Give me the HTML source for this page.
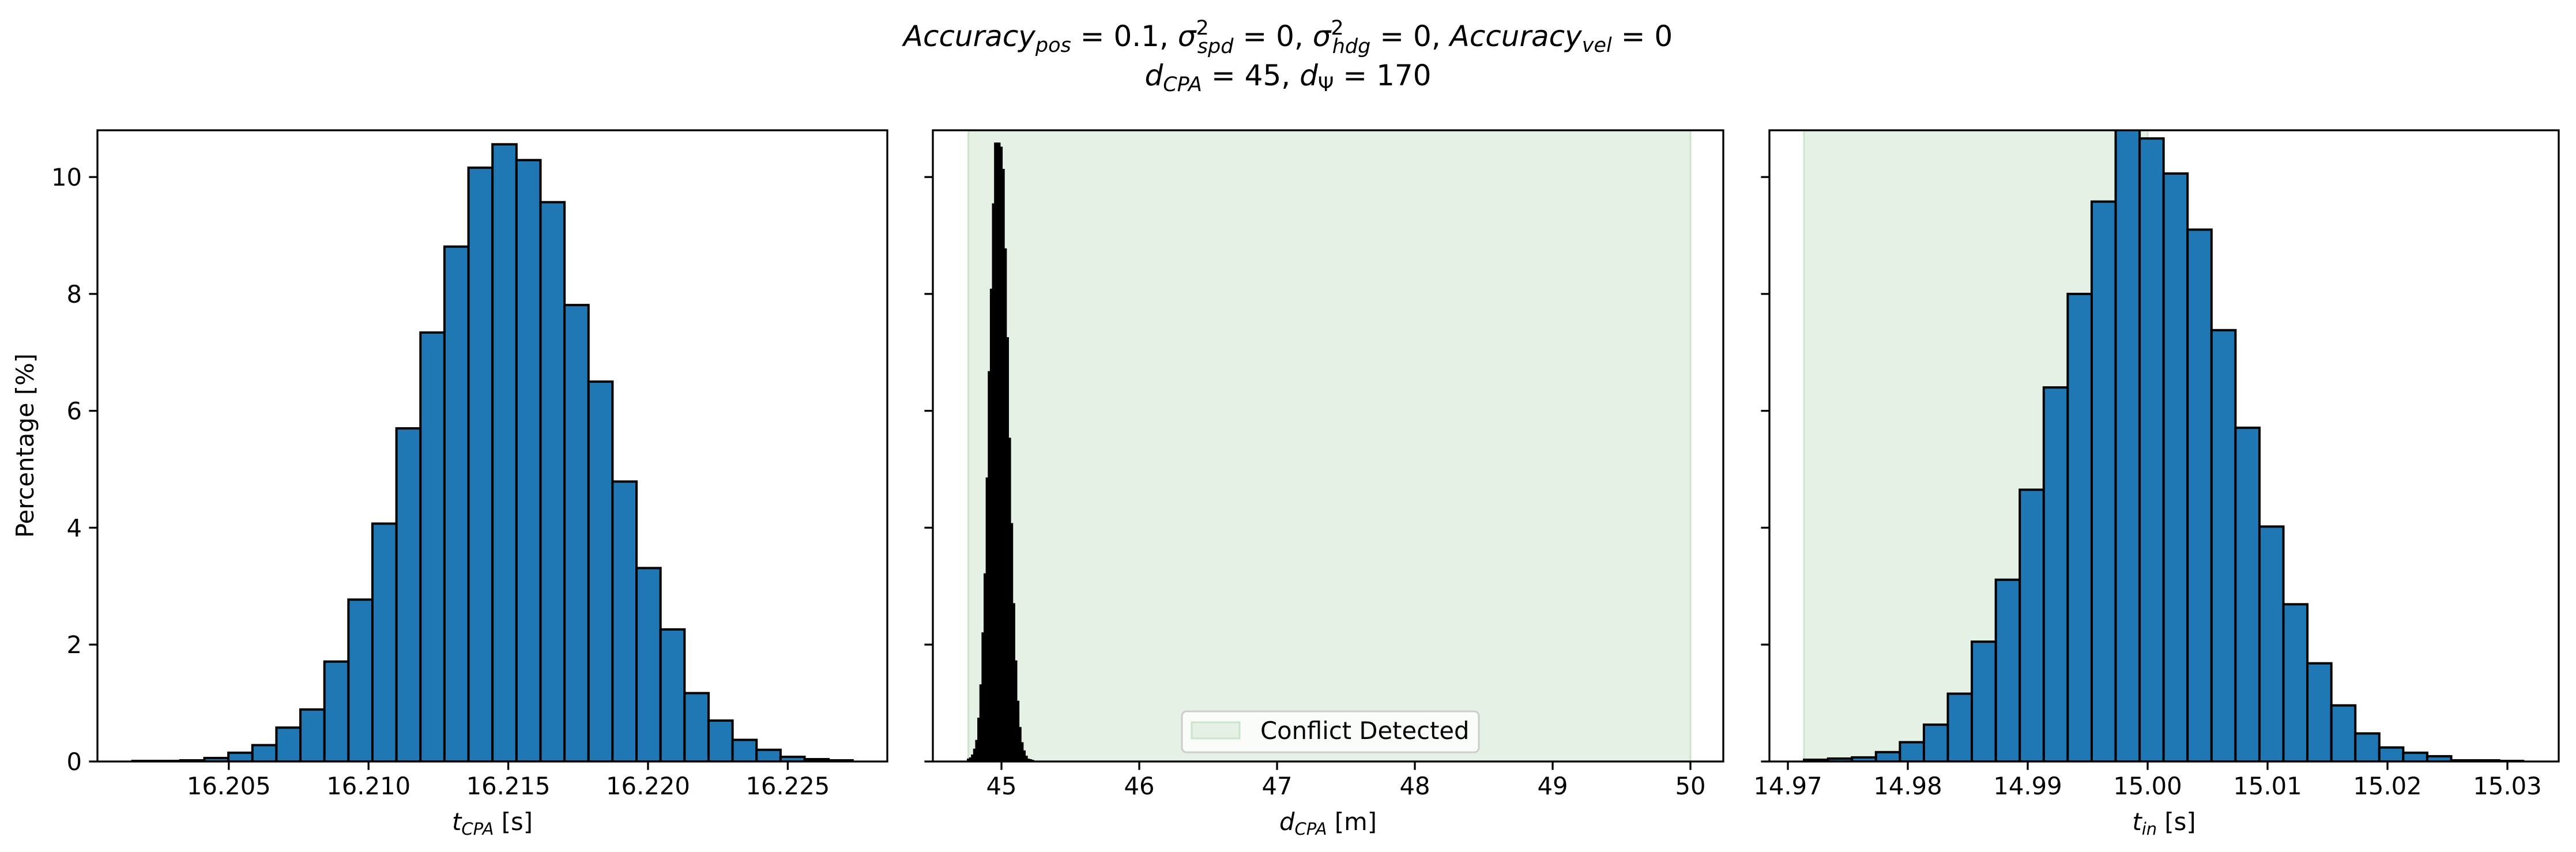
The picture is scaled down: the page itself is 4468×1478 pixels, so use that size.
<!DOCTYPE html>
<html><head><meta charset="utf-8">
<style>
html,body{margin:0;padding:0;background:#fff;}
svg{display:block;font-family:"DejaVu Sans","Liberation Sans",sans-serif;}
</style></head>
<body>
<svg id="fig" width="4468" height="1478" viewBox="0 0 4468 1478" xmlns="http://www.w3.org/2000/svg">
<rect width="4468" height="1478" fill="#fff"/>
<g font-size="50" text-anchor="middle">
<text x="2234" y="80"><tspan font-style="italic">Accuracy</tspan><tspan font-style="italic" font-size="35" dy="10">pos</tspan><tspan dy="-10"> = 0.1, </tspan><tspan font-style="italic">σ</tspan><tspan font-size="35" dy="-20">2</tspan><tspan font-style="italic" font-size="35" dx="-20" dy="32">spd</tspan><tspan dy="-12"> = 0, </tspan><tspan font-style="italic">σ</tspan><tspan font-size="35" dy="-20">2</tspan><tspan font-style="italic" font-size="35" dx="-20" dy="32">hdg</tspan><tspan dy="-12"> = 0, </tspan><tspan font-style="italic">Accuracy</tspan><tspan font-style="italic" font-size="35" dy="10">vel</tspan><tspan dy="-10"> = 0</tspan></text>
<text x="2234" y="148"><tspan font-style="italic">d</tspan><tspan font-style="italic" font-size="35" dy="10">CPA</tspan><tspan dy="-10"> = 45, </tspan><tspan font-style="italic">d</tspan><tspan font-size="35" dy="10">Ψ</tspan><tspan dy="-10"> = 170</tspan></text>
</g>
<g id="p1"></g>
<g id="p2"></g>
<g id="p3"></g>
</svg>
<script>
const yTicks = [0, 2, 4, 6, 8, 10];
const yMax = 10.8;

const tcpaStart = 16.20155;
const tcpaBinWidth = 0.000859;
const tcpaValues = [0.01,0.01,0.02,0.06,0.15,0.28,0.58,0.89,1.71,2.77,4.07,5.70,7.34,8.81,10.16,10.56,10.29,9.57,7.81,6.50,4.79,3.31,2.26,1.17,0.70,0.37,0.20,0.08,0.04,0.02];
const tcpaTicks = [16.205, 16.210, 16.215, 16.220, 16.225];
const tcpaTickLabels = ["16.205","16.210","16.215","16.220","16.225"];

const dcpaStart = 44.757;
const dcpaBinWidth = 0.0152;
const dcpaValues = [0.03,0.05,0.10,0.20,0.35,0.73,1.30,2.19,3.20,4.84,6.66,8.07,9.53,10.57,10.57,10.50,10.12,8.76,7.24,5.52,4.06,2.69,1.71,1.02,0.57,0.31,0.17,0.08,0.03,0.02,0.01];
const dcpaTicks = [45, 46, 47, 48, 49, 50];
const dcpaTickLabels = ["45","46","47","48","49","50"];
const dcpaSpan = [44.76, 50.0];

const tinStart = 14.97135;
const tinBinWidth = 0.0019986;
const tinValues = [0.03,0.05,0.07,0.16,0.33,0.63,1.16,2.05,3.11,4.65,6.40,8.00,9.58,10.95,10.66,10.06,9.10,7.38,5.71,4.02,2.69,1.68,0.96,0.48,0.24,0.15,0.09,0.02,0.02,0.01];
const tinTicks = [14.97, 14.98, 14.99, 15.00, 15.01, 15.02, 15.03];
const tinTickLabels = ["14.97","14.98","14.99","15.00","15.01","15.02","15.03"];
const tinSpan = [14.97135, 15.0000];

const NS = "http://www.w3.org/2000/svg";
function mk(tag, attrs, parent){const e=document.createElementNS(NS,tag);for(const k in attrs)e.setAttribute(k,attrs[k]);if(parent)parent.appendChild(e);return e;}

const TOP=226, BOT=1321;
function yS(v){return BOT-(v/yMax)*(BOT-TOP);}

function panel(g, id, left, right, xmin, xmax, start, bw, vals, ticks, tickLabels, span, showY, xlabelParts){
  const xS = v => left + (v-xmin)/(xmax-xmin)*(right-left);
  const cp = mk('clipPath',{id:'clip'+id},g);
  mk('rect',{x:left,y:TOP,width:right-left,height:BOT-TOP},cp);
  const inner = mk('g',{'clip-path':'url(#clip'+id+')'},g);
  if(span){
    const s = mk('rect',{x:xS(span[0]),y:TOP,width:xS(span[1])-xS(span[0]),height:BOT-TOP,fill:'#e5f1e5',stroke:'#cbe5cb','stroke-width':3},inner);
    
    
  }
  vals.forEach((v,i)=>{
    const x0=xS(start+i*bw), x1=xS(start+(i+1)*bw);
    const r = mk('rect',{x:x0,y:yS(v),width:x1-x0,height:BOT-yS(v),fill:'#1f77b4',stroke:'#000','stroke-width':4},inner);
    
    
  });
  mk('rect',{x:left,y:TOP,width:right-left,height:BOT-TOP,fill:'none',stroke:'#000','stroke-width':3.3},g);
  ticks.forEach((t,i)=>{
    const x=xS(t);
    mk('line',{x1:x,x2:x,y1:BOT,y2:BOT+14.6,stroke:'#000','stroke-width':3.3},g);
    const tx = mk('text',{x:x,y:BOT+57,'font-size':41.7,'text-anchor':'middle'},g);
    tx.textContent = tickLabels[i];
    
    
  });
  yTicks.forEach(t=>{
    const y=yS(t);
    mk('line',{x1:left-14.6,x2:left,y1:y,y2:y,stroke:'#000','stroke-width':3.3},g);
    if(showY){
      const tx = mk('text',{x:left-27,y:y+15,'font-size':41.7,'text-anchor':'end'},g);
      tx.textContent = String(t);
      
      
    }
  });
  const xl = mk('text',{x:(left+right)/2,y:1440,'font-size':41.7,'text-anchor':'middle'},g);
  
  
  xl.innerHTML = xlabelParts;
  return xS;
}

panel(document.getElementById('p1'),'t',169,1539,16.20030,16.20030+1370/48475,tcpaStart,tcpaBinWidth,tcpaValues,tcpaTicks,tcpaTickLabels,null,true,
 '<tspan font-style="italic">t</tspan><tspan font-style="italic" font-size="29" dy="8">CPA</tspan><tspan dy="-8"> [s]</tspan>');
panel(document.getElementById('p2'),'d',1618,2989,44.502,44.502+1371/239,dcpaStart,dcpaBinWidth,dcpaValues,dcpaTicks,dcpaTickLabels,dcpaSpan,false,
 '<tspan font-style="italic">d</tspan><tspan font-style="italic" font-size="29" dy="8">CPA</tspan><tspan dy="-8"> [m]</tspan>');
panel(document.getElementById('p3'),'i',3069,4438,14.96846,14.96846+1369/20800,tinStart,tinBinWidth,tinValues,tinTicks,tinTickLabels,tinSpan,false,
 '<tspan font-style="italic">t</tspan><tspan font-style="italic" font-size="29" dy="8">in</tspan><tspan dy="-8"> [s]</tspan>');

const yl = mk('text',{x:0,y:0,'font-size':41.7,'text-anchor':'middle',transform:'translate(58,773) rotate(-90)'},document.getElementById('p1'));
yl.textContent='Percentage [%]';



const lg = mk('g',{},document.getElementById('p2'));


mk('rect',{x:2050,y:1234,width:515,height:71,rx:8,fill:'#fff','fill-opacity':0.8,stroke:'#cccccc','stroke-width':3},lg);
const lp = mk('rect',{x:2067,y:1253,width:83,height:28,fill:'#e5f1e5',stroke:'#cbe5cb','stroke-width':3},lg);


const lt = mk('text',{x:2186,y:1282,'font-size':41.7},lg);
lt.textContent='Conflict Detected';


</script>
</body></html>
